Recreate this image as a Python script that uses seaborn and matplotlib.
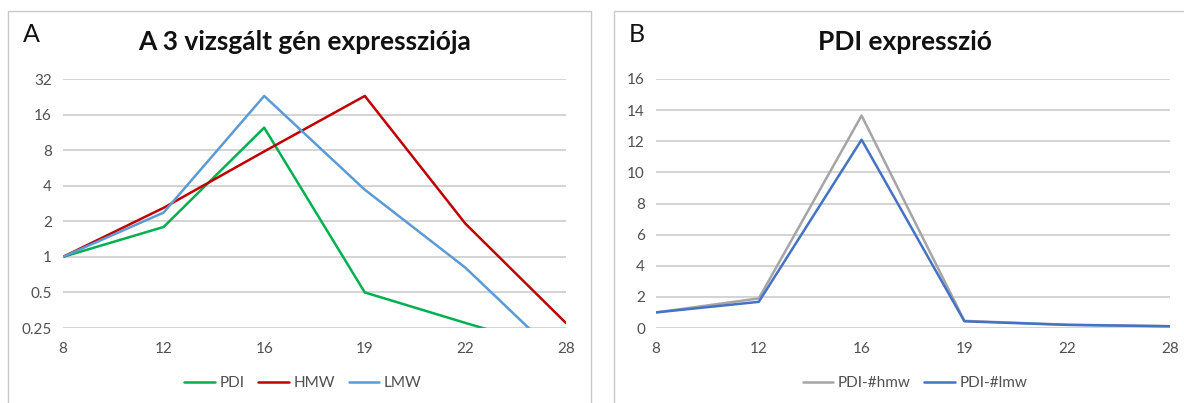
import numpy as np
import pandas as pd
import matplotlib
matplotlib.use("Agg")
import matplotlib.pyplot as plt
import seaborn as sns
from matplotlib.patches import Rectangle
from matplotlib.ticker import FixedLocator, FixedFormatter, NullLocator

# ---------------- data ----------------
days = ["8", "12", "16", "19", "22", "28"]

pdi = [1.0, 1.79, 12.4, 0.5, 0.276, 0.155]
hmw = [1.0, 2.6, 7.8, 23.0, 1.91, 0.275]
lmw = [1.0, 2.37, 23.0, 3.7, 0.81, 0.125]

pdi_hmw = [1.0, 1.9, 13.65, 0.46, 0.21, 0.12]
pdi_lmw = [1.0, 1.68, 12.1, 0.43, 0.2, 0.11]

left_ticks = [0.25, 0.5, 1, 2, 4, 8, 16, 32]
left_ticklabels = ["0.25", "0.5", "1", "2", "4", "8", "16", "32"]
right_ticks = [0, 2, 4, 6, 8, 10, 12, 14, 16]

title_a = "A 3 vizsgált gén expressziója"
title_b = "PDI expresszió"

# ---------------- style ----------------
sns.set_theme(style="white")
plt.rcParams["font.family"] = ["Lato", "DejaVu Sans"]

W, H = 1184, 403
fig = plt.figure(figsize=(W / 100, H / 100), dpi=100)
fig.patch.set_facecolor("white")

def fx(px):
    return px / W

def fy(py):
    return 1 - py / H

# panel borders
fig.patches.append(Rectangle((fx(8), fy(410)), fx(591) - fx(8), fy(11) - fy(410),
                             transform=fig.transFigure, fill=False,
                             edgecolor="#c8c8c8", lw=1.0))
fig.patches.append(Rectangle((fx(614), fy(410)), fx(1195) - fx(614), fy(11) - fy(410),
                             transform=fig.transFigure, fill=False,
                             edgecolor="#c8c8c8", lw=1.0))

ax1 = fig.add_axes([fx(63), fy(328), fx(566) - fx(63), fy(79) - fy(328)])
ax2 = fig.add_axes([fx(656), fy(328), fx(1170) - fx(656), fy(79) - fy(328)])

pos = np.arange(len(days))
df1 = pd.DataFrame({
    "x": np.tile(pos, 3),
    "y": pdi + hmw + lmw,
    "series": ["PDI"] * 6 + ["HMW"] * 6 + ["LMW"] * 6,
})
df2 = pd.DataFrame({
    "x": np.tile(pos, 2),
    "y": pdi_hmw + pdi_lmw,
    "series": ["PDI-#hmw"] * 6 + ["PDI-#lmw"] * 6,
})

pal1 = {"PDI": "#00b050", "HMW": "#c00000", "LMW": "#5b9bd5"}
pal2 = {"PDI-#hmw": "#a5a5a5", "PDI-#lmw": "#4472c4"}

sns.lineplot(data=df1, x="x", y="y", hue="series", palette=pal1, ax=ax1,
             lw=1.8, legend=True, zorder=3)
sns.lineplot(data=df2, x="x", y="y", hue="series", palette=pal2, ax=ax2,
             lw=1.8, legend=True, zorder=3)

tick_color = "#505050"
grid_color = "#d0d0d0"

for ax in (ax1, ax2):
    ax.set_xlim(0, len(days) - 1)
    ax.set_xticks(pos)
    ax.set_xticklabels(days)
    ax.set_xlabel("")
    ax.set_ylabel("")
    for s in ax.spines.values():
        s.set_visible(False)
    ax.tick_params(axis="both", length=0, labelsize=11, colors=tick_color)
    ax.tick_params(axis="x", pad=10)
    ax.tick_params(axis="y", pad=8)
    ax.grid(axis="y", color=grid_color, lw=1.3)
    ax.grid(axis="x", visible=False)
    ax.set_axisbelow(True)
    ax.set_facecolor("none")

ax1.set_yscale("log", base=2)
ax1.set_ylim(0.25, 32)
ax1.yaxis.set_major_locator(FixedLocator(left_ticks))
ax1.yaxis.set_major_formatter(FixedFormatter(left_ticklabels))
ax1.yaxis.set_minor_locator(NullLocator())

ax2.set_ylim(0, 16)
ax2.set_yticks(right_ticks)
ax2.set_yticklabels([str(t) for t in right_ticks])

# titles
fig.text(fx(305), fy(42), title_a, ha="center", va="center",
         fontsize=19, fontweight="bold", color="#111111")
fig.text(fx(905), fy(42), title_b, ha="center", va="center",
         fontsize=19, fontweight="bold", color="#111111")
fig.text(fx(23), fy(35), "A", ha="left", va="center", fontsize=18, color="#111111")
fig.text(fx(629), fy(35), "B", ha="left", va="center", fontsize=18, color="#111111")

# legends
for ax, cx in ((ax1, 303), (ax2, 915)):
    h, l = ax.get_legend_handles_labels()
    ax.get_legend().remove()
    fig.legend(h, l, loc="center", bbox_to_anchor=(fx(cx), fy(383)),
               ncol=len(l), frameon=False, fontsize=11, handlelength=2.0,
               handletextpad=0.3, columnspacing=0.9, labelcolor=tick_color)

fig.savefig("out.png", dpi=100, facecolor="white")
